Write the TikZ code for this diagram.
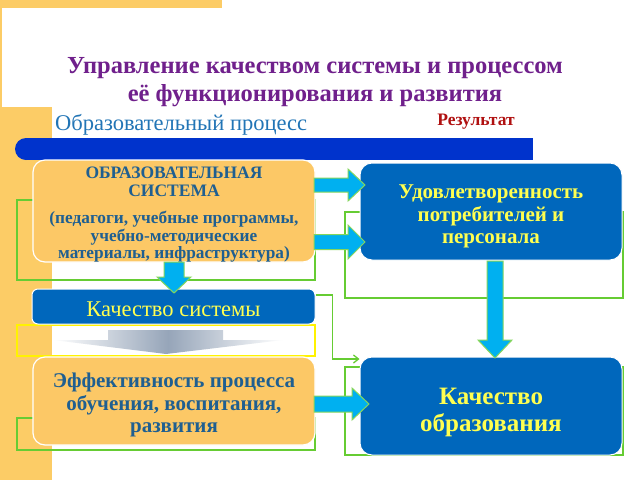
\documentclass[tikz,border=0pt]{standalone}
\usepackage{fontspec}
\setmainfont{Liberation Serif}
\usetikzlibrary{calc,arrows.meta}
\definecolor{orfill}{RGB}{252,200,102}
\definecolor{bgorange}{RGB}{252,204,102}
\definecolor{boxblue}{RGB}{0,103,188}
\definecolor{barblue}{RGB}{0,51,204}
\definecolor{ttl}{RGB}{112,32,140}
\definecolor{proc}{RGB}{34,117,182}
\definecolor{res}{RGB}{176,16,16}
\definecolor{otext}{RGB}{31,95,145}
\definecolor{ytext}{RGB}{255,255,80}
\definecolor{arrcyan}{RGB}{0,176,240}
\definecolor{frgreen}{RGB}{102,204,51}
\definecolor{arrgray}{RGB}{150,165,185}
\newcommand\ArrR[6]{\draw[barrow] (#1,#2-#5) -- (#3,#2-#5) -- (#3,#2-#6) -- (#4,#2) -- (#3,#2+#6) -- (#3,#2+#5) -- (#1,#2+#5) -- cycle;}
\newcommand\ArrD[6]{\draw[barrow] (#1-#5,#2) -- (#1-#5,#3) -- (#1-#6,#3) -- (#1,#4) -- (#1+#6,#3) -- (#1+#5,#3) -- (#1+#5,#2) -- cycle;}
\newcommand\capsize{\fontsize{17.5}{18}\selectfont}
% draw a line lower by #1 without changing its layout size
\newcommand\lowr[2]{\raisebox{-#1}[\height][\depth]{#2}}
\begin{document}
\begin{tikzpicture}[x=1pt,y=-1pt,
  obox/.style={rectangle, rounded corners=12pt, fill=orfill, draw=white, line width=1.2pt, align=center, text=otext, font=\bfseries, inner sep=2pt},
  bbox/.style={rectangle, rounded corners=12pt, fill=boxblue, draw=white, line width=1pt, align=center, text=ytext, font=\bfseries, inner sep=2pt},
  frame/.style={draw=frgreen, line width=1.3pt},
  barrow/.style={fill=arrcyan, draw=frgreen!80!white, line width=1pt, line join=miter},
]
\useasboundingbox (0,0) rectangle (640,480);
\fill[white] (0,0) rectangle (640,480);
% background decoration
\fill[bgorange] (0,0) rectangle (222,8);
\fill[bgorange] (0,0) rectangle (2,108);
\fill[bgorange] (0,107) rectangle (52,480);
% title
\node[font=\bfseries\fontsize{24.5}{28}\selectfont, text=ttl, align=center] (title) at (315,82) {Управление качеством системы и процессом\\её функционирования и развития};
\node[text=proc, font=\fontsize{22.5}{24}\selectfont, anchor=west, inner sep=0pt] (proc) at (55,125) {Образовательный процесс};
\node[text=res, font=\bfseries\fontsize{17.5}{19}\selectfont] (res) at (476,122) {Результат};
% blue bar
\fill[barblue] (26,138) rectangle (533,160);
\fill[barblue] (26,149) circle (11);
% frames
\draw[frame] (17,200) rectangle (315,280);
\draw[frame] (345,212) rectangle (623,298);
\draw[draw=yellow, line width=1.2pt] (17,325) rectangle (315,356);
\draw[frame] (17,418) rectangle (315,450);
\draw[frame] (345,367) rectangle (623,455);
% gray arrow
\shade[left color=white, right color=white, middle color=arrgray]
  (108,330) -- (223,330) -- (223,340) -- (283,340) -- (166,354) -- (53,340) -- (108,340) -- cycle;
% boxes
\node[obox, minimum width=282pt, minimum height=102pt, font=\bfseries\fontsize{17.3}{17.5}\selectfont] (sys) at (174,211)
  {\capsize\lowr{4pt}{ОБРАЗОВАТЕЛЬНАЯ}\\\capsize\lowr{4pt}{СИСТЕМА}\\[10pt]\lowr{4pt}{(педагоги, учебные программы,}\\\lowr{4pt}{учебно-методические}\\\lowr{4pt}{материалы, инфраструктура)}};
\node[bbox, minimum width=262pt, minimum height=97pt, font=\bfseries\fontsize{21}{22.5}\selectfont] (sat) at (491,211.5)
  {\lowr{5pt}{Удовлетворенность}\\\lowr{5pt}{потребителей и}\\\lowr{5pt}{персонала}};
\node[bbox, rounded corners=6pt, minimum width=283pt, minimum height=35pt, font=\fontsize{22.5}{24}\selectfont] (ks) at (173.5,306.5)
  {\lowr{2.5pt}{Качество системы}};
\node[obox, minimum width=282pt, minimum height=88pt, font=\bfseries\fontsize{21}{22.5}\selectfont] (eff) at (174,401)
  {\lowr{4pt}{Эффективность процесса}\\\lowr{4pt}{обучения, воспитания,}\\\lowr{4pt}{развития}};
\node[bbox, minimum width=262pt, minimum height=98pt, font=\bfseries\fontsize{25}{27}\selectfont] (ko) at (491,406)
  {\lowr{6pt}{Качество}\\\lowr{6pt}{образования}};
% block arrows
\ArrR{314}{185}{348}{365}{7}{16}
\ArrR{314}{242}{348}{365}{7.5}{17}
\ArrR{314}{404}{352}{369}{8}{16}
\ArrD{174}{262}{277}{293}{10}{17}
\ArrD{495}{261}{340}{358}{8}{17}
% connector
\draw[frame, -{Straight Barb[length=5pt,width=8pt]}] ([yshift=11.5pt]ks.east) -- ++(17,0) |- ([yshift=47pt]ko.west);
\end{tikzpicture}
\end{document}
